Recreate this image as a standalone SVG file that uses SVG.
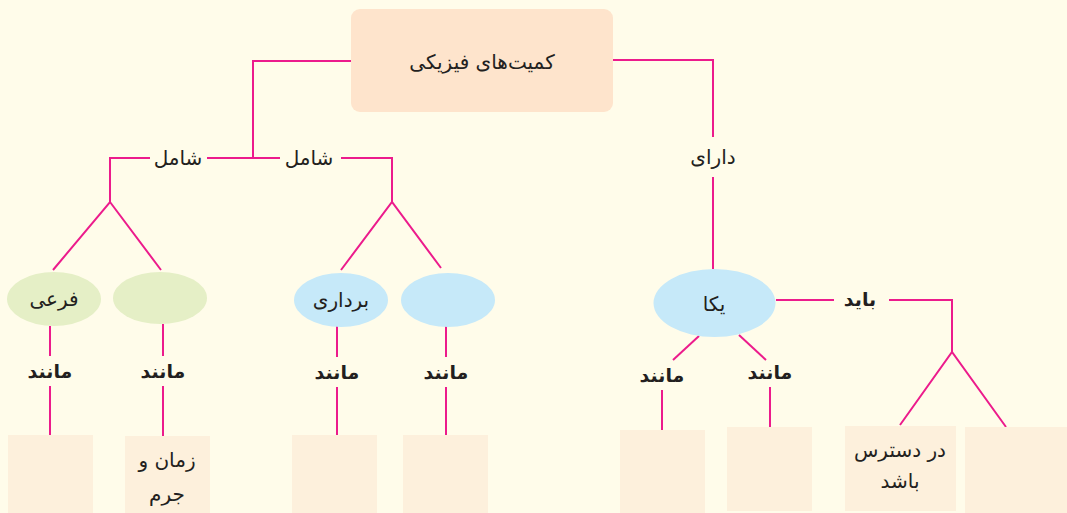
<svg xmlns="http://www.w3.org/2000/svg" width="1067" height="513" viewBox="0 0 1067 513">
<style>
.ln{stroke:#ec1b8c;stroke-width:2;fill:none}
.t{font-family:"DejaVu Sans",sans-serif;fill:#231f20;text-anchor:middle;font-size:20px}
.tb{font-family:"DejaVu Sans",sans-serif;fill:#231f20;text-anchor:middle;font-size:19px;font-weight:bold}
.g{fill:#e5efc6}
.b{fill:#c6e9f9}
.bx{fill:#fdf0dc}
</style>
<rect width="1067" height="513" fill="#fffcea"/>
<g id="connectors">
<polyline class="ln" points="351,61 253,61 253,158"/>
<polyline class="ln" points="150,158 110,158 110,202"/>
<line class="ln" x1="207" y1="158" x2="280" y2="158"/>
<polyline class="ln" points="341,158 392,158 392,202"/>
<polyline class="ln" points="53,270 110,202 161,270"/>
<polyline class="ln" points="341,270 392,202 441,268"/>
<line class="ln" x1="50" y1="326" x2="50" y2="356"/>
<line class="ln" x1="50" y1="386" x2="50" y2="435"/>
<line class="ln" x1="163" y1="324" x2="163" y2="356"/>
<line class="ln" x1="163" y1="386" x2="163" y2="436"/>
<line class="ln" x1="337" y1="326" x2="337" y2="357"/>
<line class="ln" x1="337" y1="387" x2="337" y2="435"/>
<line class="ln" x1="446" y1="326" x2="446" y2="357"/>
<line class="ln" x1="446" y1="387" x2="446" y2="435"/>
<polyline class="ln" points="613,60 713,60 713,137"/>
<line class="ln" x1="713" y1="177" x2="713" y2="269"/>
<line class="ln" x1="776" y1="300" x2="834" y2="300"/>
<polyline class="ln" points="889,300 952,300 952,352"/>
<polyline class="ln" points="900,425 952,352 1006,427"/>
<line class="ln" x1="699" y1="336" x2="673" y2="360"/>
<line class="ln" x1="739" y1="335" x2="766" y2="360"/>
<line class="ln" x1="662" y1="390" x2="662" y2="430"/>
<line class="ln" x1="770" y1="387" x2="770" y2="427"/>
</g>
<g id="root"><rect x="351" y="9" width="262" height="103" rx="9" fill="#fee4cc"/><text class="t" x="482" y="69" font-size="24">کمیت‌های فیزیکی</text></g>
<g id="lbl-shamel1"><text class="t" x="178" y="165">شامل</text></g>
<g id="lbl-shamel2"><text class="t" x="309" y="165">شامل</text></g>
<g id="lbl-dara"><text class="t" x="713" y="164">دارای</text></g>
<g id="lbl-bayad"><text class="tb" x="860" y="306">باید</text></g>
<g id="e-fari"><ellipse class="g" cx="54" cy="299" rx="47" ry="27"/><text class="t" x="54" y="306">فرعی</text></g>
<g id="e-green2"><ellipse class="g" cx="160" cy="298" rx="47" ry="26"/></g>
<g id="e-bordari"><ellipse class="b" cx="341" cy="300" rx="47" ry="27"/><text class="t" x="341" y="307">برداری</text></g>
<g id="e-blue2"><ellipse class="b" cx="448" cy="300" rx="47" ry="27"/></g>
<g id="e-yeka"><ellipse class="b" cx="714.5" cy="303" rx="61" ry="34"/><text class="t" x="714" y="311" font-size="24">یکا</text></g>
<g id="lbl-manand1"><text class="tb" x="50" y="378">مانند</text></g>
<g id="lbl-manand2"><text class="tb" x="163" y="378">مانند</text></g>
<g id="lbl-manand3"><text class="tb" x="337" y="379">مانند</text></g>
<g id="lbl-manand4"><text class="tb" x="446" y="379">مانند</text></g>
<g id="lbl-manand5"><text class="tb" x="662" y="382">مانند</text></g>
<g id="lbl-manand6"><text class="tb" x="770" y="379">مانند</text></g>
<g id="box1"><rect class="bx" x="8" y="435" width="85" height="78"/></g>
<g id="box2"><rect class="bx" x="125" y="436" width="85" height="77"/><text class="t" x="167" y="467">زمان و</text><text class="t" x="167" y="501">جرم</text></g>
<g id="box3"><rect class="bx" x="292" y="435" width="85" height="78"/></g>
<g id="box4"><rect class="bx" x="403" y="435" width="85" height="78"/></g>
<g id="box5"><rect class="bx" x="620" y="430" width="85" height="83"/></g>
<g id="box6"><rect class="bx" x="727" y="427" width="85" height="84"/></g>
<g id="box7"><rect class="bx" x="845" y="426" width="111" height="85"/><text class="t" x="900" y="457">در دسترس</text><text class="t" x="900" y="488">باشد</text></g>
<g id="box8"><rect class="bx" x="965" y="427" width="102" height="86"/></g>
</svg>
